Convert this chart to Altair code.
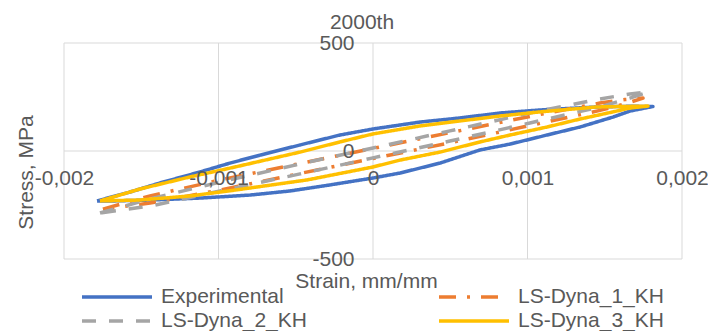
import altair as alt
import pandas as pd

FONT = "Liberation Sans"
GREY = "#595959"
GRID = "#d9d9d9"

series_names = ["Experimental", "LS-Dyna_1_KH", "LS-Dyna_2_KH", "LS-Dyna_3_KH"]
series_colors = ["#4472C4", "#ED7D31", "#A5A5A5", "#FFC000"]
series_dashes = [[1, 0], [17, 11, 3, 11], [14, 13], [1, 0]]

# Experimental loop (upper branch left->right, then lower branch right->left)
exp_strain = [-0.001786, -0.001573, -0.001379, -0.001120, -0.000926, -0.000731, -0.000472,
              -0.000214, 0.0, 0.000304, 0.000563, 0.000822, 0.001081, 0.001450, 0.001663,
              0.001812, 0.001663, 0.001553, 0.001340, 0.001126, 0.000887, 0.000693, 0.000434,
              0.000175, 0.0, -0.000278, -0.000537, -0.000796, -0.001120, -0.001443, -0.001670,
              -0.001786]
exp_stress = [-231, -190, -148, -97, -56, -19, 28, 74, 102, 134, 153, 176, 190, 204, 207,
              206, 185, 157, 111, 74, 32, 5, -56, -102, -125, -157, -185, -204, -218, -227,
              -231, -231]

ls1_strain = [-0.001748, -0.001443, -0.000990, -0.000472, 0.0, 0.000498, 0.001016, 0.001469,
              0.001631, 0.001748, 0.001631, 0.001469, 0.001016, 0.000498, 0.0, -0.000472,
              -0.000990, -0.001443, -0.001748]
ls1_stress = [-269, -208, -134, -58, 12, 85, 160, 222, 238, 245, 218, 188, 118, 38, -35, -104,
              -181, -241, -269]

ls2_strain = [-0.001767, -0.001443, -0.000990, -0.000472, 0.0, 0.000498, 0.001016, 0.001469,
              0.001663, 0.001780, 0.001663, 0.001469, 0.001016, 0.000498, 0.0, -0.000472,
              -0.000990, -0.001443, -0.001767]
ls2_stress = [-287, -222, -144, -60, 14, 93, 176, 241, 264, 273, 245, 204, 130, 46, -32, -106,
              -185, -255, -287]

ls3_strain = [-0.001767, -0.001508, -0.001184, -0.000893, -0.000472, -0.000214, 0.0, 0.000304,
              0.000563, 0.000822, 0.001081, 0.001450, 0.001780, 0.001663, 0.001553, 0.001340,
              0.001126, 0.000887, 0.000693, 0.000434, 0.000175, 0.0, -0.000427, -0.000893,
              -0.001184, -0.001508, -0.001767]
ls3_stress = [-231, -176, -120, -74, -5, 42, 79, 116, 139, 162, 181, 204, 208, 199, 181, 148,
              111, 74, 42, -5, -42, -74, -134, -181, -208, -227, -231]

x_ticks = [-0.002, -0.001, 0.0, 0.001, 0.002]
y_ticks = [-500, 0, 500]

rows = []
for name, xs, ys in zip(series_names,
                        [exp_strain, ls1_strain, ls2_strain, ls3_strain],
                        [exp_stress, ls1_stress, ls2_stress, ls3_stress]):
    for i, (xv, yv) in enumerate(zip(xs, ys)):
        rows.append({"series": name, "idx": i, "strain": xv, "stress": yv})
df = pd.DataFrame(rows)

xscale = alt.Scale(domain=[-0.002, 0.002], nice=False, zero=False)
yscale = alt.Scale(domain=[-500, 500], nice=False, zero=False)

x_axis = alt.Axis(
    values=x_ticks, offset=-108, grid=False, domain=False, ticks=False,
    labelPadding=16, labelFontSize=21, labelFont=FONT, labelColor=GREY,
    labelExpr="datum.value == 0 ? '0' : (datum.value < 0 ? '-' : '') + replace(format(abs(datum.value), '.3f'), '.', ',')",
    labelFlush=False, labelOverlap=False,
    title="Strain, mm/mm", titleX=302, titleY=136, titleAlign="center",
    titleBaseline="alphabetic", titleFontSize=21, titleFont=FONT, titleColor=GREY,
    titleFontWeight="normal", zindex=1,
)
y_axis = alt.Axis(
    values=y_ticks, offset=-309, grid=False, domain=False, ticks=False,
    labelPadding=19, labelFontSize=21, labelFont=FONT, labelColor=GREY,
    labelExpr="(datum.value < 0 ? '-' : '') + format(abs(datum.value), 'd')",
    labelFlush=False, labelOverlap=False,
    title="Stress, MPa", titleAngle=270, titleX=-347, titleY=129, titleAlign="center",
    titleBaseline="middle", titleFontSize=21, titleFont=FONT, titleColor=GREY,
    titleFontWeight="normal", zindex=1,
)

vgrid = alt.Chart(pd.DataFrame({"strain": x_ticks})).mark_rule(color=GRID, strokeWidth=1).encode(
    x=alt.X("strain:Q", scale=xscale, axis=x_axis)
)
hgrid = alt.Chart(pd.DataFrame({"stress": y_ticks})).mark_rule(color=GRID, strokeWidth=1).encode(
    y=alt.Y("stress:Q", scale=yscale, axis=y_axis)
)

legend = alt.Legend(
    title=None, orient="none", legendX=16, legendY=244, columns=2, direction="horizontal",
    columnPadding=130, rowPadding=3, clipHeight=20,
    symbolType="stroke", symbolSize=4900, symbolStrokeWidth=3.5,
    labelFontSize=21, labelFont=FONT, labelColor=GREY, labelOffset=7, labelLimit=0,
)

lines = alt.Chart(df).mark_line(strokeWidth=3.5, strokeJoin="round", strokeCap="butt").encode(
    x=alt.X("strain:Q", scale=xscale, axis=x_axis),
    y=alt.Y("stress:Q", scale=yscale, axis=y_axis),
    color=alt.Color("series:N", scale=alt.Scale(domain=series_names, range=series_colors), legend=legend),
    strokeDash=alt.StrokeDash("series:N", scale=alt.Scale(domain=series_names, range=series_dashes), legend=legend),
    order=alt.Order("idx:Q"),
)

chart = alt.layer(vgrid, hgrid, lines).properties(
    width=618, height=216,
    autosize=alt.AutoSizeParams(type="none"),
    padding={"left": 56, "top": 35, "right": 26, "bottom": 72},
    background="white",
    title=alt.TitleParams("2000th", fontSize=21, font=FONT, color=GREY, fontWeight="normal",
                          anchor="middle", dx=-11, dy=5),
).configure_view(stroke=None)

chart.save("out.html", embed_options={"renderer": "svg", "actions": False})
